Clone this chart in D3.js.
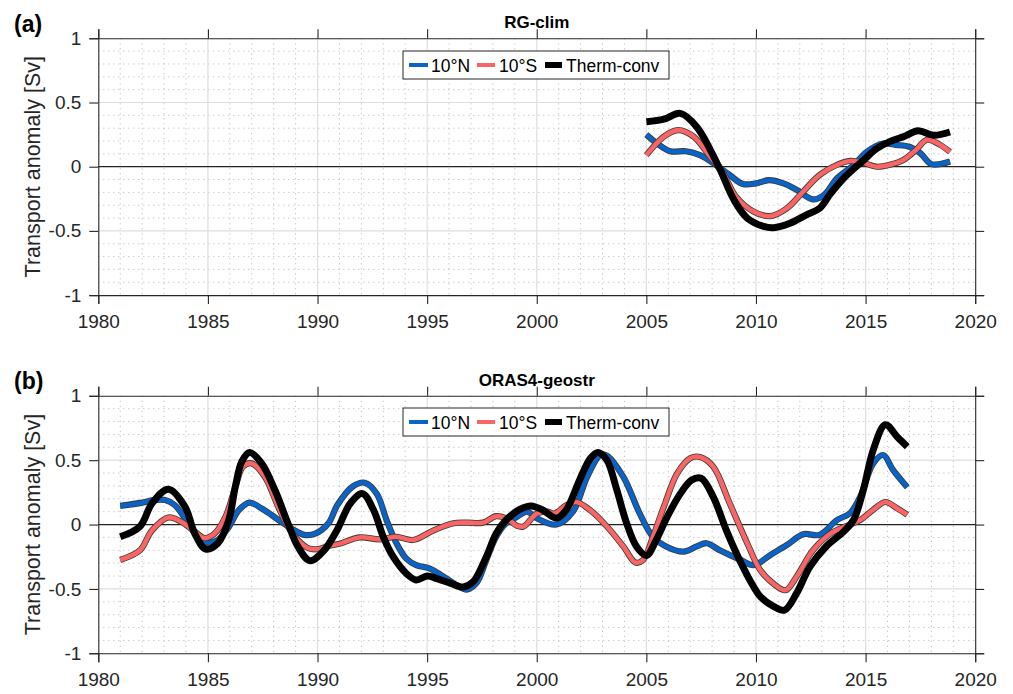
<!DOCTYPE html>
<html>
<head>
<meta charset="utf-8">
<script src="https://cdn.jsdelivr.net/npm/d3@7"></script>
<style>
  html, body { margin: 0; padding: 0; background: #fff; }
  svg { display: block; font-family: "Liberation Sans", Arial, Helvetica, sans-serif; }
</style>
</head>
<body>
<svg id="fig" width="1013" height="694"></svg>
<script>
// Axis ticks
const xTicks = [1980, 1985, 1990, 1995, 2000, 2005, 2010, 2015, 2020];
const yTicks = [-1, -0.5, 0, 0.5, 1];
const seriesNames = ["10°N", "10°S", "Therm-conv"];

// RG-clim transport anomalies [year, Sv]
const rgNorth = [[2005.0,0.25],[2005.5,0.18],[2006.1,0.12],[2006.8,0.12],[2007.45,0.09],[2008.2,0.01],[2008.8,-0.065],[2009.4,-0.135],[2010.0,-0.13],[2010.6,-0.105],[2011.25,-0.13],[2011.85,-0.18],[2012.6,-0.255],[2013.1,-0.22],[2013.7,-0.09],[2014.45,0.01],[2015.05,0.115],[2015.8,0.18],[2016.4,0.17],[2017.0,0.155],[2017.5,0.105],[2018.0,0.02],[2018.85,0.04]];
const rgSouth = [[2005.0,0.09],[2005.8,0.235],[2006.45,0.285],[2007.15,0.235],[2007.9,0.08],[2008.5,-0.05],[2009.1,-0.235],[2009.9,-0.35],[2010.65,-0.385],[2011.4,-0.325],[2012.15,-0.195],[2012.9,-0.065],[2013.7,0.015],[2014.3,0.045],[2014.9,0.03],[2015.5,0.0],[2016.1,0.015],[2016.7,0.05],[2017.3,0.13],[2017.8,0.21],[2018.4,0.17],[2018.85,0.115]];
const rgTherm = [[2005.0,0.35],[2005.8,0.37],[2006.55,0.415],[2007.3,0.31],[2008.3,0.0],[2009.0,-0.26],[2009.6,-0.40],[2010.35,-0.465],[2010.8,-0.475],[2011.55,-0.44],[2012.3,-0.375],[2012.9,-0.325],[2013.4,-0.21],[2014.0,-0.09],[2014.9,0.05],[2015.5,0.14],[2016.1,0.195],[2016.75,0.235],[2017.4,0.28],[2018.1,0.245],[2018.85,0.27]];

// ORAS4-geostr transport anomalies [year, Sv]
const orNorth = [[1981.0,0.145],[1982.0,0.17],[1982.5,0.19],[1983.05,0.19],[1983.5,0.15],[1984.1,0.01],[1984.55,-0.095],[1985.0,-0.14],[1985.45,-0.12],[1985.95,-0.02],[1986.4,0.11],[1986.9,0.17],[1987.45,0.125],[1987.9,0.075],[1988.35,0.02],[1988.8,-0.03],[1989.4,-0.08],[1989.9,-0.07],[1990.5,0.01],[1990.9,0.15],[1991.6,0.295],[1992.15,0.325],[1992.7,0.24],[1993.15,0.035],[1993.6,-0.145],[1994.05,-0.265],[1994.5,-0.315],[1995.1,-0.34],[1995.75,-0.405],[1996.35,-0.47],[1996.8,-0.505],[1997.25,-0.455],[1997.7,-0.275],[1998.15,-0.095],[1998.6,0.01],[1999.1,0.06],[1999.55,0.1],[2000.0,0.05],[2000.9,0.0],[2001.65,0.1],[2002.3,0.37],[2002.9,0.54],[2003.2,0.535],[2003.95,0.37],[2004.7,0.085],[2005.3,-0.095],[2005.9,-0.17],[2006.7,-0.21],[2007.3,-0.17],[2007.75,-0.145],[2008.35,-0.2],[2009.3,-0.275],[2009.9,-0.315],[2010.65,-0.237],[2011.4,-0.16],[2012.15,-0.075],[2012.9,-0.08],[2013.7,0.035],[2014.3,0.09],[2014.75,0.215],[2015.35,0.475],[2015.8,0.54],[2016.25,0.425],[2016.9,0.29]];
const orSouth = [[1981.0,-0.275],[1981.9,-0.2],[1982.45,-0.045],[1983.2,0.055],[1983.8,0.02],[1984.4,-0.055],[1984.85,-0.105],[1985.3,-0.07],[1985.8,0.06],[1986.25,0.29],[1986.6,0.45],[1987.0,0.475],[1987.6,0.37],[1988.2,0.14],[1988.65,-0.015],[1989.1,-0.12],[1989.6,-0.185],[1990.05,-0.19],[1990.5,-0.165],[1991.0,-0.15],[1991.9,-0.1],[1992.85,-0.115],[1993.6,-0.095],[1994.35,-0.12],[1995.3,-0.045],[1996.2,0.01],[1996.8,0.015],[1997.55,0.015],[1998.15,0.065],[1998.65,0.045],[1999.1,-0.01],[1999.4,-0.015],[2000.0,0.085],[2000.5,0.1],[2000.8,0.085],[2001.35,0.15],[2001.8,0.175],[2002.45,0.11],[2003.2,-0.015],[2003.95,-0.17],[2004.5,-0.295],[2004.85,-0.275],[2005.3,-0.095],[2005.8,0.14],[2006.4,0.395],[2007.0,0.515],[2007.45,0.525],[2008.05,0.45],[2008.8,0.165],[2009.6,-0.145],[2010.2,-0.355],[2010.8,-0.46],[2011.35,-0.51],[2011.85,-0.405],[2012.6,-0.2],[2013.4,-0.07],[2014.15,-0.01],[2014.75,0.035],[2015.35,0.115],[2015.9,0.175],[2016.45,0.125],[2016.9,0.075]];
const orTherm = [[1981.0,-0.095],[1981.9,-0.015],[1982.45,0.165],[1983.2,0.275],[1983.95,0.14],[1984.4,-0.07],[1984.9,-0.19],[1985.45,-0.145],[1985.95,0.035],[1986.25,0.295],[1986.55,0.49],[1986.9,0.56],[1987.45,0.475],[1988.05,0.27],[1988.65,0.01],[1989.1,-0.17],[1989.65,-0.28],[1990.3,-0.2],[1990.9,-0.04],[1991.5,0.165],[1992.05,0.24],[1992.55,0.115],[1993.0,-0.095],[1993.45,-0.25],[1994.05,-0.38],[1994.5,-0.43],[1995.0,-0.4],[1995.45,-0.42],[1996.05,-0.455],[1996.65,-0.485],[1997.1,-0.445],[1997.7,-0.25],[1998.15,-0.07],[1998.6,0.035],[1999.25,0.12],[1999.75,0.145],[2000.25,0.115],[2000.9,0.05],[2001.35,0.115],[2001.95,0.345],[2002.45,0.515],[2002.8,0.56],[2003.2,0.5],[2003.65,0.27],[2004.1,0.01],[2004.55,-0.17],[2005.0,-0.24],[2005.45,-0.12],[2005.95,0.06],[2006.55,0.24],[2007.05,0.345],[2007.5,0.36],[2008.05,0.215],[2008.65,-0.045],[2009.25,-0.275],[2009.9,-0.485],[2010.2,-0.56],[2010.8,-0.635],[2011.3,-0.665],[2011.85,-0.535],[2012.45,-0.33],[2013.2,-0.17],[2014.0,-0.055],[2014.45,0.035],[2014.9,0.27],[2015.35,0.58],[2015.9,0.775],[2016.45,0.68],[2016.9,0.605]];

const BLUE = "#0a63c6", RED = "#f96464", INK = "#262626";

const svg = d3.select("#fig");
const left = 98.3, right = 975.2;

const x = d3.scaleLinear().domain([1980, 2020]).range([left, right]);

function drawPanel(opts) {
  const { top, bottom, tag, title, series, legendY } = opts;
  const y = d3.scaleLinear().domain([-1, 1]).range([bottom, top]);
  const g = svg.append("g");

  // minor dotted grid
  const minorX = d3.range(1981, 2020).filter(v => v % 5 !== 0);
  const minorY = d3.range(-9, 10).map(v => v / 10).filter(v => Math.abs(v * 10) % 5 !== 0);
  g.append("g").selectAll("line").data(minorX).join("line")
    .attr("x1", d => x(d)).attr("x2", d => x(d)).attr("y1", top).attr("y2", bottom)
    .attr("stroke", "#b4b4b4").attr("stroke-width", 1).attr("stroke-dasharray", "1,4");
  g.append("g").selectAll("line").data(minorY).join("line")
    .attr("x1", left).attr("x2", right).attr("y1", d => y(d)).attr("y2", d => y(d))
    .attr("stroke", "#b4b4b4").attr("stroke-width", 1).attr("stroke-dasharray", "1,4");

  // major grid
  g.append("g").selectAll("line").data(xTicks.slice(1, -1)).join("line")
    .attr("x1", d => x(d)).attr("x2", d => x(d)).attr("y1", top).attr("y2", bottom)
    .attr("stroke", "#dedede").attr("stroke-width", 1.2);
  g.append("g").selectAll("line").data([-0.5, 0.5]).join("line")
    .attr("x1", left).attr("x2", right).attr("y1", d => y(d)).attr("y2", d => y(d))
    .attr("stroke", "#dedede").attr("stroke-width", 1.2);

  // zero line
  g.append("line").attr("x1", left).attr("x2", right).attr("y1", y(0)).attr("y2", y(0))
    .attr("stroke", "#222").attr("stroke-width", 1.3);

  // axes (ticks outward on all four sides)
  const fmt = d => String(d).replace("−", "-");
  const axB = g.append("g").attr("transform", `translate(0,${bottom})`)
    .call(d3.axisBottom(x).tickValues(xTicks).tickSize(9).tickPadding(10).tickFormat(d3.format("d")));
  const axT = g.append("g").attr("transform", `translate(0,${top})`)
    .call(d3.axisTop(x).tickValues(xTicks).tickSize(9).tickFormat(""));
  const axL = g.append("g").attr("transform", `translate(${left},0)`)
    .call(d3.axisLeft(y).tickValues(yTicks).tickSize(9).tickPadding(8).tickFormat(fmt));
  const axR = g.append("g").attr("transform", `translate(${right},0)`)
    .call(d3.axisRight(y).tickValues(yTicks).tickSize(9).tickFormat(""));
  [axB, axT, axL, axR].forEach(a => {
    a.select(".domain").attr("stroke", INK).attr("stroke-width", 1.1);
    a.selectAll(".tick line").attr("stroke", INK).attr("stroke-width", 1.1);
    a.selectAll(".tick text").attr("fill", INK).style("font-size", "19px")
      .style("font-family", "'Liberation Sans', Arial, Helvetica, sans-serif");
  });
  axB.selectAll(".tick text").attr("dy", "0.72em");

  // series
  const line = d3.line().x(d => x(d[0])).y(d => y(d[1])).curve(d3.curveCatmullRom.alpha(0.5));
  const lines = g.append("g");
  series.forEach(s => {
    if (s.outline) {
      lines.append("path").datum(s.data).attr("d", line)
        .attr("fill", "none").attr("stroke", "#3a3a3a").attr("stroke-width", s.width + 1.6)
        .attr("stroke-linejoin", "round");
    }
    lines.append("path").datum(s.data).attr("d", line)
      .attr("fill", "none").attr("stroke", s.color).attr("stroke-width", s.width)
      .attr("stroke-linejoin", "round");
  });

  // titles
  g.append("text").attr("x", (left + right) / 2).attr("y", top - 10)
    .attr("text-anchor", "middle").attr("font-weight", "bold").attr("font-size", 17)
    .attr("fill", "#000").text(title);
  g.append("text").attr("x", 14).attr("y", top - 6.5)
    .attr("font-weight", "bold").attr("font-size", 23).attr("fill", "#000").text(tag);
  g.append("text")
    .attr("transform", `translate(40,${(top + bottom) / 2}) rotate(-90)`)
    .attr("text-anchor", "middle").attr("font-size", 21.5).attr("fill", INK)
    .text("Transport anomaly [Sv]");

  // legend
  const lg = g.append("g").attr("transform", `translate(403,${legendY})`);
  lg.append("rect").attr("width", 266).attr("height", 28)
    .attr("fill", "#fff").attr("stroke", INK).attr("stroke-width", 1);
  const items = [
    { x0: 6, x1: 25, tx: 28, color: BLUE, w: 4 },
    { x0: 74, x1: 92, tx: 96, color: RED, w: 4 },
    { x0: 142, x1: 159, tx: 163, color: "#000", w: 6 }
  ];
  items.forEach((it, i) => {
    lg.append("line").attr("x1", it.x0).attr("x2", it.x1).attr("y1", 14).attr("y2", 14)
      .attr("stroke", it.color).attr("stroke-width", it.w);
    lg.append("text").attr("x", it.tx).attr("y", 20.5).attr("font-size", 17.5)
      .attr("fill", "#000").text(seriesNames[i]);
  });
}

drawPanel({
  top: 38.3, bottom: 295.1, tag: "(a)", title: "RG-clim", legendY: 51,
  series: [
    { data: rgNorth, color: BLUE, width: 4.6, outline: true },
    { data: rgSouth, color: RED, width: 4.6, outline: true },
    { data: rgTherm, color: "#000", width: 7, outline: false }
  ]
});
drawPanel({
  top: 395.8, bottom: 653.3, tag: "(b)", title: "ORAS4-geostr", legendY: 408,
  series: [
    { data: orNorth, color: BLUE, width: 4.6, outline: true },
    { data: orSouth, color: RED, width: 4.6, outline: true },
    { data: orTherm, color: "#000", width: 7, outline: false }
  ]
});
</script>
</body>
</html>
